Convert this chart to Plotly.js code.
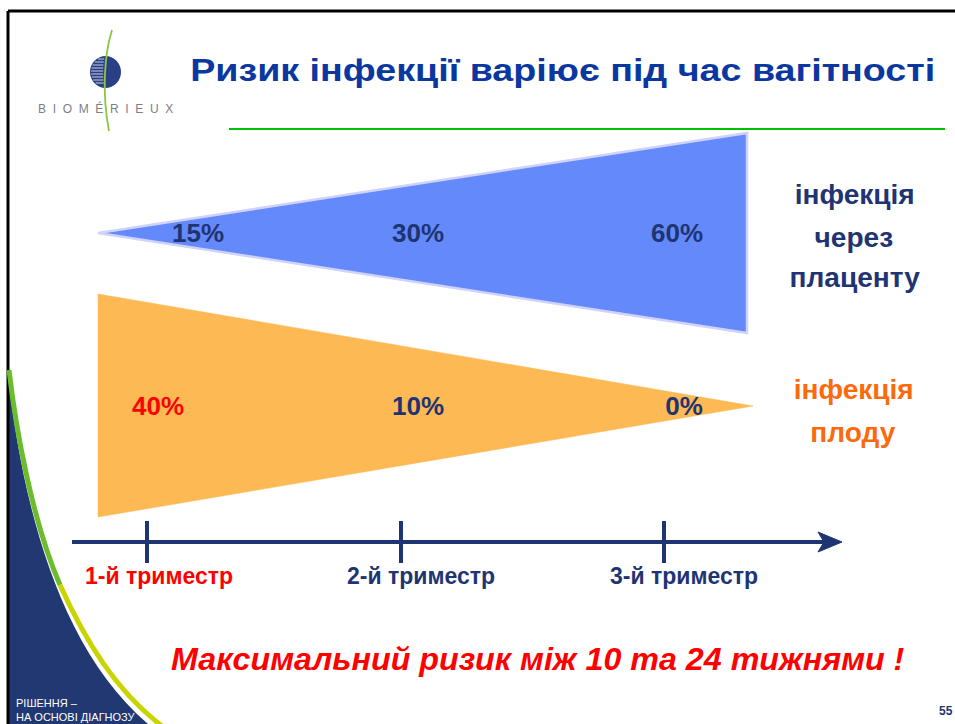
<!DOCTYPE html>
<html><head><meta charset="utf-8">
<script src="https://cdn.plot.ly/plotly-3.0.1.min.js"></script>
<style>html,body{margin:0;padding:0;background:#fff;overflow:hidden}#chart{width:955px;height:724px}</style>
</head><body><div id="chart"></div><script>
// ---- data ----
const trimesters = ["1-й триместр", "2-й триместр", "3-й триместр"];
const placentaRisk = [15, 30, 60];
const fetalRisk = [40, 10, 0];
const placentaLabel = ["інфекція", "через", "плаценту"];
const fetalLabel = ["інфекція", "плоду"];
const titleText = "Ризик інфекції варіює під час вагітності";
const footnote = "Максимальний ризик між 10 та 24 тижнями !";
const pageNumber = "55";
const sideNote = "РІШЕННЯ –<br>НА ОСНОВІ ДІАГНОЗУ";
const brand = "BIOMÉRIEUX";

// ---- layout constants (pixel space) ----
const FONT = "Liberation Sans, Arial, sans-serif";
const NAVY = "#1f3473";
const ORANGE = "#fb6a0c";
const tickX = [147, 401, 664];
const axisY = 542;
const placentaLabelX = [198, 418, 677], placentaLabelY = 235;
const fetalLabelX = [158, 418, 684], fetalLabelY = 408;
const trimesterLabelX = [159, 421, 684], trimesterLabelY = 578;
const placentaLineY = [195, 238, 278];
const fetalLineY = [390, 433];

const fmt = v => v + "%";

const traces = [
  { // placenta wedge
    x: [98, 747, 747, 98], y: [233, 133, 333, 233], mode: "lines", fill: "toself",
    fillcolor: "#6389fb", line: {color: "#cfd2fa", width: 2.5}, hoverinfo: "skip"
  },
  { // fetal wedge
    x: [98, 753, 98, 98], y: [294, 406, 517, 294], mode: "lines", fill: "toself",
    fillcolor: "#fdb954", line: {color: "#fdb954", width: 0.5}, hoverinfo: "skip"
  },
  {
    x: placentaLabelX, y: placentaRisk.map(() => placentaLabelY), mode: "text",
    text: placentaRisk.map(v => "<b>" + fmt(v) + "</b>"),
    textfont: {family: FONT, size: 26, color: NAVY}, hoverinfo: "skip"
  },
  {
    x: fetalLabelX, y: fetalRisk.map(() => fetalLabelY), mode: "text",
    text: fetalRisk.map(v => "<b>" + fmt(v) + "</b>"),
    textfont: {family: FONT, size: 26, color: ["#ff0000", NAVY, NAVY]}, hoverinfo: "skip"
  },
  { // trimester ticks
    x: tickX, y: trimesters.map(() => axisY), mode: "markers",
    marker: {symbol: "line-ns", size: 30, line: {color: NAVY, width: 4}}, hoverinfo: "skip"
  },
  {
    x: trimesterLabelX, y: trimesters.map(() => trimesterLabelY), mode: "text",
    text: trimesters.map(t => "<b>" + t + "</b>"),
    textfont: {family: FONT, size: 23, color: ["#ff0000", NAVY, NAVY]}, hoverinfo: "skip"
  }
];

const shapes = [
  {type: "line", x0: 8, x1: 955, y0: 11, y1: 11, line: {color: "#000", width: 3}},
  {type: "line", x0: 8, x1: 8, y0: 11, y1: 724, line: {color: "#000", width: 3}},
  {type: "line", x0: 229, x1: 945, y0: 129, y1: 129, line: {color: "#00c000", width: 2}},
  // bottom-left decoration
  {type: "path", path: "M 8,375 C 20,480 50,640 148,724 L 8,724 Z", fillcolor: "#213873", line: {width: 0}, layer: "below"},
  {type: "path", path: "M 9,370 C 16,430 32,520 60,585", line: {color: "#6cbd2c", width: 5}},
  {type: "path", path: "M 60,585 C 85,640 115,690 162,726", line: {color: "#c9d400", width: 5}},
  // axis
  {type: "line", x0: 72, x1: 830, y0: axisY, y1: axisY, line: {color: NAVY, width: 4}},
  {type: "path", path: "M 818,532 L 842,542 L 818,552 L 824,542 Z", fillcolor: NAVY, line: {color: NAVY, width: 1}},
  // logo sphere
  {type: "circle", x0: 90, x1: 121, y0: 56, y1: 88, fillcolor: "#2b3f86", line: {width: 0}}
];
const cx = 105.5, cy = 72, r = 15.5;
for (let yy = 59; yy <= 85; yy += 3) {
  const dy = yy - cy;
  const half = Math.sqrt(Math.max(r * r - dy * dy, 0));
  shapes.push({type: "line", x0: cx - half + 1, x1: cx - half * 0.15, y0: yy, y1: yy,
    line: {color: "rgba(255,255,255,0.75)", width: 1}});
}
shapes.push({type: "path", path: "M 112,30 C 104,55 102,95 109,131", line: {color: "#8cc63f", width: 1.8}});

const annotations = [];
const stretch = [];
function addAnn(a, k) { annotations.push(Object.assign({showarrow: false}, a)); stretch.push(k || 1); }

addAnn({x: 562, y: 70, text: "<b>" + titleText + "</b>", font: {family: FONT, size: 31, color: "#0a37a0"}}, 1.215);
placentaLabel.forEach((t, i) => addAnn({x: 854, y: placentaLineY[i], text: "<b>" + t + "</b>",
  font: {family: FONT, size: 27, color: NAVY}}, 1.04));
fetalLabel.forEach((t, i) => addAnn({x: 853, y: fetalLineY[i], text: "<b>" + t + "</b>",
  font: {family: FONT, size: 27, color: ORANGE}}, 1.04));
addAnn({x: 537, y: 659, text: "<b><i>" + footnote + "</i></b>", font: {family: FONT, size: 31, color: "#ff0000"}}, 1.04);
addAnn({x: 946, y: 711, text: "<b>" + pageNumber + "</b>", font: {family: FONT, size: 12, color: NAVY}});
addAnn({x: 14, y: 710, xanchor: "left", text: sideNote, align: "left", font: {family: FONT, size: 11, color: "#ffffff"}});
addAnn({x: 105, y: 108, text: brand.split("").join("\u00A0 "), font: {family: FONT, size: 12, color: "#7a7f86"}});

const layout = {
  width: 955, height: 724, margin: {l: 0, r: 0, t: 0, b: 0},
  paper_bgcolor: "#ffffff", plot_bgcolor: "#ffffff", showlegend: false,
  xaxis: {range: [0, 955], visible: false, fixedrange: true},
  yaxis: {range: [724, 0], visible: false, fixedrange: true},
  shapes: shapes, annotations: annotations
};
Plotly.newPlot("chart", traces, layout, {staticPlot: true, displayModeBar: false}).then(() => {
  const texts = document.querySelectorAll("#chart .annotation-text");
  stretch.forEach((k, i) => {
    if (k !== 1 && texts[i]) {
      texts[i].style.transformBox = "fill-box";
      texts[i].style.transformOrigin = "center";
      texts[i].style.transform = "scaleX(" + k + ")";
    }
  });
});
</script></body></html>
